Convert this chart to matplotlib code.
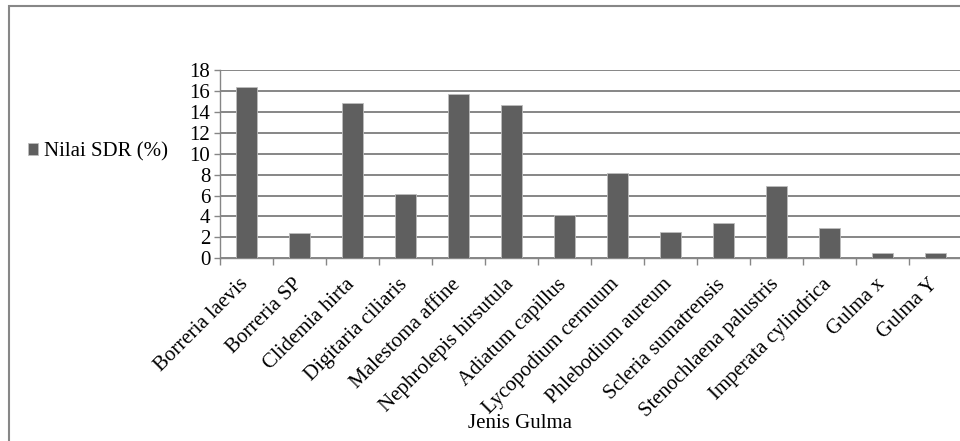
import matplotlib.pyplot as plt
import matplotlib.transforms as mtransforms
from matplotlib.patches import Rectangle

plt.rcParams['font.family'] = ['Liberation Serif', 'DejaVu Serif']

jenis = ['Borreria laevis', 'Borreria SP', 'Clidemia hirta', 'Digitaria ciliaris',
         'Malestoma affine', 'Nephrolepis hirsutula', 'Adiatum capillus',
         'Lycopodium cernuum', 'Phlebodium aureum', 'Scleria sumatrensis',
         'Stenochlaena palustris', 'Imperata cylindrica', 'Gulma x', 'Gulma Y']
sdr = [16.35, 2.45, 14.85, 6.1, 15.75, 14.65, 4.1, 8.2, 2.55, 3.35, 6.9, 2.85, 0.5, 0.5]
yticks = list(range(0, 19, 2))

fs = 15
grid_c = '#868686'
bar_c = '#5f5f5f'

fig = plt.figure(figsize=(9.6, 4.41), dpi=100)
ax = fig.add_axes([220 / 960, 1 - 258.3 / 441, 742 / 960, 188.3 / 441])

x = list(range(len(jenis)))
bars = ax.bar(x, sdr, width=0.4, color=bar_c, edgecolor='#bdbdbd', linewidth=0.6,
              zorder=3, label='Nilai SDR (%)')

ax.set_xlim(-0.5, len(jenis) - 0.5)
ax.set_ylim(0, 18)
ax.set_yticks(yticks)
ax.set_yticklabels([str(v) for v in yticks], fontsize=fs)
ax.yaxis.grid(True, color=grid_c, linewidth=1.4, zorder=0)
ax.tick_params(axis='y', length=4, width=1, color=grid_c, pad=3)

# category ticks sit on the boundaries between bars
ax.set_xticks([i - 0.5 for i in range(len(jenis) + 1)], minor=False)
ax.set_xticklabels([])
ax.tick_params(axis='x', length=5, width=1, color=grid_c)
ax.set_xticks(x, minor=True)
ax.set_xticklabels(jenis, minor=True, rotation=45, ha='right', va='top',
                   fontsize=fs)
ax.tick_params(axis='x', which='minor', length=0, pad=12)
shift = mtransforms.ScaledTranslation(6 / 100, 0, fig.dpi_scale_trans)
for lab in ax.get_xticklabels(minor=True):
    lab.set_transform(lab.get_transform() + shift)

for side in ['top', 'right']:
    ax.spines[side].set_visible(False)
for side in ['left', 'bottom']:
    ax.spines[side].set_color(grid_c)
    ax.spines[side].set_linewidth(1)

leg = fig.legend(handles=[bars], labels=['Nilai SDR (%)'], loc='center left',
                 bbox_to_anchor=(28 / 960, 1 - 152 / 441), frameon=False,
                 fontsize=fs, handlelength=0.5, handleheight=0.5,
                 handletextpad=0.25, borderpad=0, borderaxespad=0)

fig.text(520 / 960, 1 - 423 / 441, 'Jenis Gulma', ha='center', va='center',
         fontsize=fs)

# outer chart border
fig.patches.append(Rectangle((8.5 / 960, -0.05), 1.0, 1 - 6 / 441 + 0.05,
                             transform=fig.transFigure, fill=False,
                             edgecolor='#878787', linewidth=1.5))

fig.savefig('out.png', dpi=100)
